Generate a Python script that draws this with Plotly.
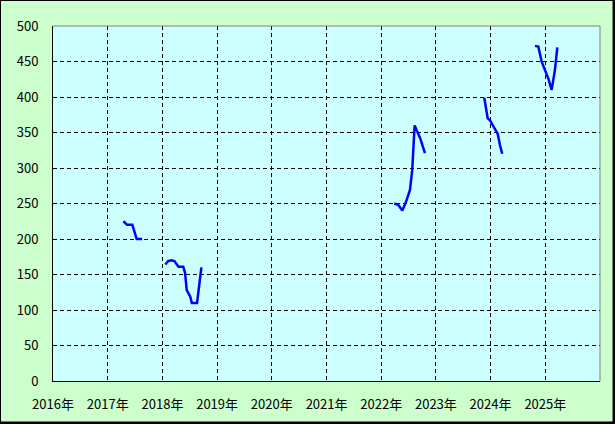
import plotly.graph_objects as go

# ---- data ----
seg1_dates = ["2017-04-15", "2017-05-10", "2017-06-14", "2017-07-13", "2017-08-18"]
seg1_vals = [225, 220, 220, 200, 200]

seg2_dates = ["2018-01-20", "2018-02-08", "2018-03-01", "2018-03-22", "2018-04-18",
              "2018-05-20", "2018-06-01", "2018-06-12", "2018-07-05", "2018-07-16",
              "2018-08-20", "2018-09-05", "2018-09-18"]
seg2_vals = [164, 169, 170, 169, 161, 161, 152, 128, 119, 110, 110, 135, 160]

seg3_dates = ["2022-03-29", "2022-04-25", "2022-05-22", "2022-06-15", "2022-07-12",
              "2022-07-27", "2022-08-12", "2022-08-30", "2022-09-18", "2022-10-20"]
seg3_vals = [250, 248, 240, 252, 269, 297, 360, 352, 342, 321]

seg4_dates = ["2023-11-20", "2023-12-02", "2023-12-13", "2023-12-29", "2024-01-24",
              "2024-02-18", "2024-03-04", "2024-03-19"]
seg4_vals = [399, 384, 370, 367, 358, 348, 332, 320]

seg5_dates = ["2024-10-24", "2024-11-15", "2024-12-07", "2024-12-30", "2025-01-21",
              "2025-02-12", "2025-03-06", "2025-03-22"]
seg5_vals = [472, 471, 450, 438, 426, 410, 438, 470]

years = list(range(2016, 2026))
year_labels = [f"{y}年" for y in years]
y_ticks = list(range(0, 501, 50))

FONT = "Noto Sans CJK JP, Noto Sans, sans-serif"

fig = go.Figure()
for d, v in [(seg1_dates, seg1_vals), (seg2_dates, seg2_vals), (seg3_dates, seg3_vals),
             (seg4_dates, seg4_vals), (seg5_dates, seg5_vals)]:
    fig.add_trace(go.Scatter(x=d, y=v, mode="lines",
                             line=dict(color="#0000FF", width=2.5),
                             showlegend=False, hoverinfo="x+y"))

fig.update_layout(
    width=615, height=424,
    margin=dict(l=53, r=15, t=26, b=43, autoexpand=False),
    paper_bgcolor="#CCFFCC",
    plot_bgcolor="#CCFFFF",
    font=dict(family=FONT, size=13, color="#000000"),
    showlegend=False,
)

fig.update_xaxes(
    type="date",
    range=["2016-01-01", "2026-01-01"],
    tickvals=[f"{y}-01-01" for y in years],
    ticktext=year_labels,
    showgrid=True, gridcolor="#000000", gridwidth=1, griddash="4px,3px",
    showline=True, linecolor="#000000", linewidth=1,
    ticks="outside", ticklen=11, tickcolor="rgba(0,0,0,0)",
    tickfont=dict(family=FONT, size=13),
    zeroline=False, automargin=False,
    fixedrange=True,
)
fig.update_yaxes(
    range=[0, 500],
    tickvals=y_ticks,
    showgrid=True, gridcolor="#000000", gridwidth=1, griddash="4px,3px",
    showline=True, linecolor="#000000", linewidth=1,
    ticks="outside", ticklen=11, tickcolor="rgba(0,0,0,0)",
    tickfont=dict(family=FONT, size=13),
    zeroline=False, automargin=False,
    fixedrange=True,
)

# gray top / right plot border
fig.add_shape(type="line", xref="paper", yref="paper", x0=0, x1=1, y0=1, y1=1,
              line=dict(color="#808080", width=1))
fig.add_shape(type="line", xref="paper", yref="paper", x0=1, x1=1, y0=0, y1=1,
              line=dict(color="#808080", width=1))

# outer figure border (pixel -> paper conversions)
pw, ph = 547.0, 355.0
def px(x):
    return (x - 53) / pw
def py(y):
    return (381 - y) / ph

fig.add_shape(type="line", xref="paper", yref="paper", x0=px(0), x1=px(615), y0=py(0.5), y1=py(0.5),
              line=dict(color="#000000", width=1))
fig.add_shape(type="line", xref="paper", yref="paper", x0=px(0.5), x1=px(0.5), y0=py(0), y1=py(424),
              line=dict(color="#000000", width=1))
fig.add_shape(type="line", xref="paper", yref="paper", x0=px(613.8), x1=px(613.8), y0=py(0), y1=py(424),
              line=dict(color="#000000", width=2.5))
fig.add_shape(type="line", xref="paper", yref="paper", x0=px(0), x1=px(615), y0=py(422.8), y1=py(422.8),
              line=dict(color="#000000", width=2.5))

fig.write_html("out.html",
               config={"displayModeBar": False},
               post_script="document.body.style.margin='0';document.body.style.padding='0';")
